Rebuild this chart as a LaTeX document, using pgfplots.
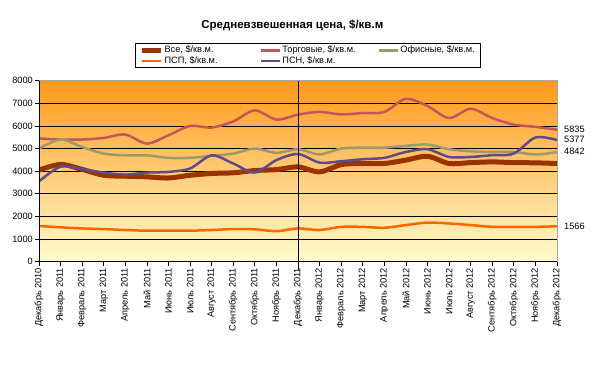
\documentclass[border=0pt]{standalone}
\usepackage{pgfplots}
\pgfplotsset{compat=1.18}
\usepackage{fontspec}
\setmainfont{Liberation Sans}
\definecolor{cVse}{HTML}{993300}
\definecolor{cTorg}{HTML}{C4565A}
\definecolor{cOfis}{HTML}{9C9A6A}
\definecolor{cPSP}{HTML}{FF6600}
\definecolor{cPSN}{HTML}{5E4A8C}
\definecolor{bgTop}{HTML}{FF991A}
\definecolor{bgMid}{HTML}{FDCB8D}
\definecolor{bgBot}{HTML}{FFFDCE}
\begin{document}
\begin{tikzpicture}
\path[use as bounding box] (-39bp,-106.3bp) rectangle (561bp,261.7bp);
\begin{axis}[
  at={(0,0)}, anchor=south west,
  scale only axis, width=518bp, height=181bp,
  clip mode=individual,
  xmin=0, xmax=24, ymin=0, ymax=8000,
  xtick={0,...,24},
  xticklabels={Декабрь 2010,Январь 2011,Февраль 2011,Март 2011,Апрель 2011,Май 2011,Июнь 2011,Июль 2011,Август 2011,Сентябрь 2011,Октябрь 2011,Ноябрь 2011,Декабрь 2011,Январь 2012,Февраль 2012,Март 2012,Апрель 2012,Май 2012,Июнь 2012,Июль 2012,Август 2012,Сентябрь 2012,Октябрь 2012,Ноябрь 2012,Декабрь 2012},
  x tick label style={rotate=90, anchor=east, font=\fontsize{9.2bp}{11bp}\selectfont, inner sep=2bp},
  ytick={0,1000,...,8000},
  y tick label style={font=\fontsize{9.2bp}{11bp}\selectfont, inner sep=2bp},
  /pgf/number format/assume math mode=true,
  /pgf/number format/set thousands separator={},
  ymajorgrids, grid style={black, line width=0.8bp},
  tick align=outside, xtick pos=left, ytick pos=left,
  major tick length=4bp, tick style={black, line width=0.8bp},
  axis line style={draw=gray!70, line width=1bp},
  axis background/.style={top color=bgTop, middle color=bgMid, bottom color=bgBot},
  title={\textbf{Средневзвешенная цена, \$/кв.м}},
  title style={at={(0.489,1)}, anchor=center, yshift=49bp, font=\fontsize{11.5bp}{13bp}\selectfont},
  legend columns=3,
  legend style={at={(0.1853,1.208)}, anchor=north west, draw=black, line width=0.8bp,
    font=\fontsize{9.2bp}{11bp}\selectfont, inner xsep=4bp, inner ysep=1.5bp,
    nodes={inner sep=1.2bp}, row sep=0bp, column sep=0bp},
  legend image code/.code={\draw[#1] (0bp,0bp) -- (19bp,0bp);},
  legend cell align=left,
]
\addplot[cVse, line width=5bp, smooth, tension=0.5] coordinates {
(0,4050)(1,4300)(2,4080)(3,3820)(4,3780)(5,3750)(6,3700)(7,3820)(8,3900)(9,3930)(10,4030)(11,4070)(12,4190)
(13,3970)(14,4290)(15,4340)(16,4340)(17,4490)(18,4660)(19,4340)(20,4380)(21,4410)(22,4380)(23,4370)(24,4340)};
\addlegendentry{\makebox[94bp][l]{Все, \$/кв.м.}}
\addplot[cTorg, line width=2.5bp, smooth, tension=0.5] coordinates {
(0,5450)(1,5400)(2,5400)(3,5470)(4,5620)(5,5220)(6,5590)(7,6000)(8,5930)(9,6200)(10,6690)(11,6280)(12,6500)
(13,6620)(14,6510)(15,6570)(16,6620)(17,7200)(18,6880)(19,6350)(20,6760)(21,6350)(22,6060)(23,5960)(24,5835)};
\addlegendentry{\makebox[94bp][l]{Торговые, \$/кв.м.}}
\addplot[cOfis, line width=2.5bp, smooth, tension=0.5] coordinates {
(0,5000)(1,5400)(2,5070)(3,4780)(4,4700)(5,4700)(6,4590)(7,4590)(8,4680)(9,4780)(10,5000)(11,4810)(12,4970)
(13,4740)(14,5000)(15,5040)(16,5040)(17,5120)(18,5180)(19,4970)(20,4880)(21,4850)(22,4850)(23,4740)(24,4842)};
\addlegendentry{Офисные, \$/кв.м.}
\addplot[cPSP, line width=2.5bp, smooth, tension=0.5] coordinates {
(0,1580)(1,1520)(2,1470)(3,1440)(4,1400)(5,1370)(6,1370)(7,1370)(8,1400)(9,1440)(10,1430)(11,1350)(12,1470)
(13,1400)(14,1540)(15,1540)(16,1500)(17,1620)(18,1730)(19,1690)(20,1620)(21,1540)(22,1540)(23,1540)(24,1566)};
\addlegendentry{\makebox[94bp][l]{ПСП, \$/кв.м.}}
\addplot[cPSN, line width=2.5bp, smooth, tension=0.5] coordinates {
(0,3550)(1,4200)(2,4090)(3,3940)(4,3850)(5,3940)(6,3970)(7,4120)(8,4700)(9,4340)(10,3940)(11,4490)(12,4760)
(13,4380)(14,4440)(15,4530)(16,4590)(17,4850)(18,4970)(19,4630)(20,4630)(21,4710)(22,4780)(23,5490)(24,5377)};
\addlegendentry{\makebox[94bp][l]{ПСН, \$/кв.м.}}
\draw[black, line width=0.8bp] (axis cs:12,-350) -- (axis cs:12,8000);
\draw[black, line width=0.8bp] (rel axis cs:0,1) -- (rel axis cs:0,0) -- (rel axis cs:1,0);
\node[anchor=west, font=\fontsize{9.2bp}{11bp}\selectfont, inner sep=0pt, xshift=7bp] at (axis cs:24,5865) {5835};
\node[anchor=west, font=\fontsize{9.2bp}{11bp}\selectfont, inner sep=0pt, xshift=7bp] at (axis cs:24,5392) {5377};
\node[anchor=west, font=\fontsize{9.2bp}{11bp}\selectfont, inner sep=0pt, xshift=7bp] at (axis cs:24,4893) {4842};
\node[anchor=west, font=\fontsize{9.2bp}{11bp}\selectfont, inner sep=0pt, xshift=7bp] at (axis cs:24,1578) {1566};
\end{axis}
\end{tikzpicture}
\end{document}
